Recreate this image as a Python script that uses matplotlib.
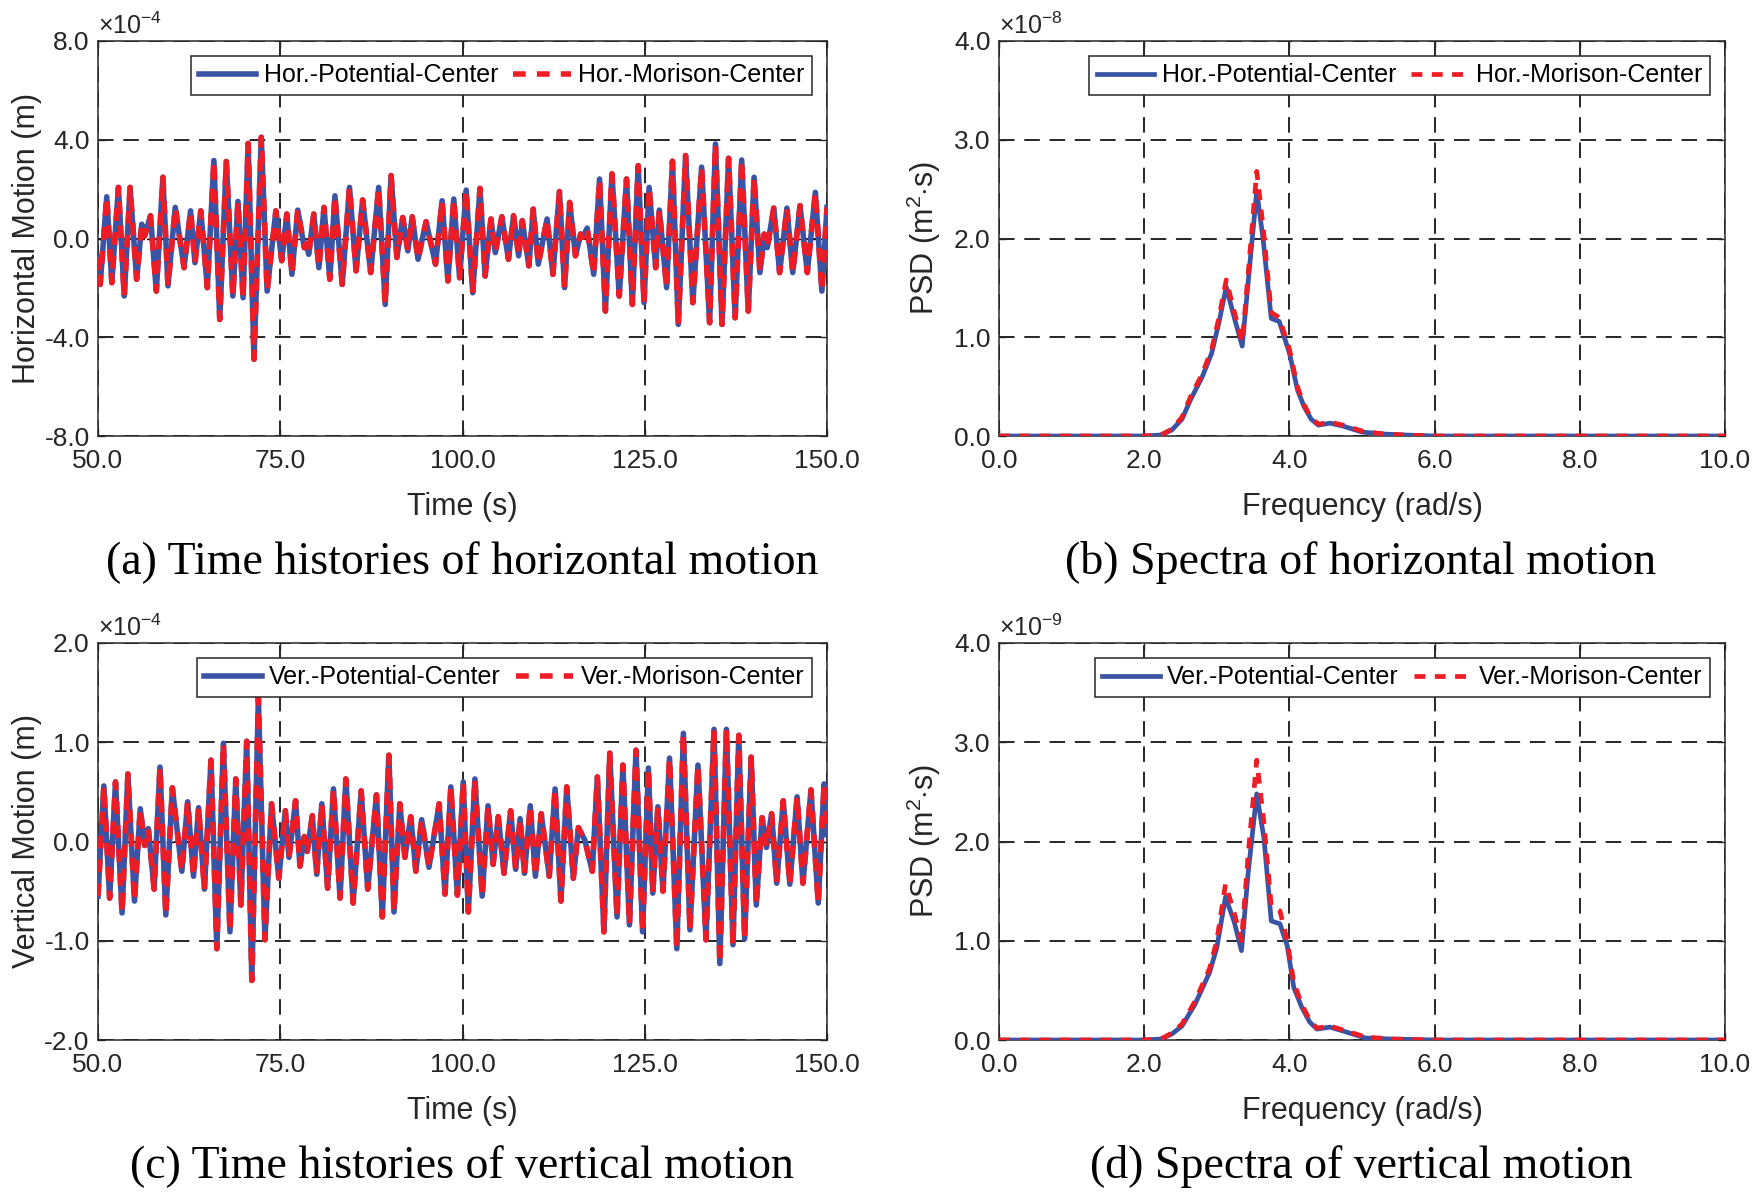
import matplotlib
matplotlib.use("Agg")
import matplotlib.pyplot as plt
from matplotlib.ticker import FixedLocator, FormatStrFormatter

plt.rcParams['font.family'] = ['Liberation Sans', 'DejaVu Sans']
plt.rcParams['mathtext.fontset'] = 'custom'
plt.rcParams['mathtext.rm'] = 'Liberation Sans'
plt.rcParams['mathtext.it'] = 'Liberation Sans:italic'

# ---------------- data ----------------
hor_time = [50.0, 50.3, 51.2, 51.9, 52.8, 53.6, 54.4, 55.3, 56.0, 56.4,
            57.2, 58.0, 58.9, 59.6, 60.6, 61.8, 62.7, 63.3, 64.1, 65.0,
            65.9, 66.7, 67.6, 68.5, 69.2, 69.9, 70.6, 71.4, 72.4, 73.2,
            74.4, 75.2, 75.9, 76.6, 77.4, 78.3, 78.6, 78.9, 79.6, 80.3,
            81.0, 81.8, 82.5, 83.5, 84.5, 85.4, 86.3, 87.4, 88.5, 89.4,
            90.2, 91.0, 91.8, 92.5, 93.1, 93.9, 95.0, 96.3, 97.2, 98.0,
            98.8, 99.6, 100.5, 101.4, 102.4, 103.1, 103.9, 104.5, 105.4, 106.3,
            107.0, 107.7, 108.2, 109.1, 109.7, 110.4, 111.6, 112.4, 113.3, 114.0,
            114.7, 115.5, 116.2, 116.5, 117.1, 118.0, 118.8, 119.6, 120.5, 121.5,
            122.5, 123.3, 124.1, 124.9, 125.6, 126.5, 127.0, 128.0, 128.8, 129.6,
            130.6, 131.6, 132.8, 133.9, 134.7, 135.6, 136.5, 137.4, 138.3, 139.2,
            140.0, 140.8, 141.4, 141.8, 142.7, 143.5, 144.5, 145.3, 146.3, 147.3,
            148.4, 149.3, 150.0]
# horizontal motion, units of 1e-4 m
hor_potential = [-0.77, -1.86, 1.69, -1.79, 2.07, -2.33, 2.07, -1.65, 0.58, 0.10,
                 0.92, -2.13, 2.48, -1.92, 1.26, -1.18, 1.12, -0.98, 1.12, -1.99,
                 3.16, -3.28, 3.12, -2.33, 1.50, -2.40, 3.85, -4.89, 4.10, -2.13,
                 1.12, -0.90, 0.99, -1.45, 1.15, -0.37, -0.20, -0.64, 0.99, -1.18,
                 1.26, -1.65, 1.73, -1.86, 2.07, -1.31, 1.56, -1.38, 2.07, -2.67,
                 2.55, -0.77, 0.85, -0.50, 0.88, -0.84, 0.68, -1.04, 1.53, -1.72,
                 1.60, -1.59, 1.96, -2.20, 2.03, -1.52, 0.79, -0.57, 0.88, -0.84,
                 0.92, -0.70, 0.72, -1.11, 1.19, -1.04, 0.79, -1.45, 1.90, -1.99,
                 1.46, -0.70, 0.18, 0.05, 0.42, -1.45, 2.41, -2.94, 2.62, -2.33,
                 2.41, -2.67, 2.95, -2.60, 2.07, -1.18, 1.15, -1.99, 3.13, -3.48,
                 3.36, -2.60, 2.89, -3.41, 3.83, -3.48, 3.25, -3.21, 3.18, -2.94,
                 2.48, -1.38, 0.18, -0.37, 1.23, -1.38, 1.23, -1.38, 1.33, -1.38,
                 1.87, -2.13, 1.26]
hor_morison = [-0.77, -1.86, 1.69, -1.79, 2.07, -2.33, 2.07, -1.65, 0.58, 0.10,
               0.92, -2.13, 2.48, -1.92, 1.26, -1.18, 1.12, -0.98, 1.12, -1.99,
               3.16, -3.28, 3.12, -2.33, 1.50, -2.40, 3.85, -4.89, 4.10, -2.13,
               1.12, -0.90, 0.99, -1.45, 1.15, -0.37, -0.20, -0.64, 0.99, -1.18,
               1.26, -1.65, 1.73, -1.86, 2.07, -1.31, 1.56, -1.38, 2.07, -2.67,
               2.55, -0.77, 0.85, -0.50, 0.88, -0.84, 0.68, -1.04, 1.53, -1.72,
               1.60, -1.59, 1.96, -2.20, 2.03, -1.52, 0.79, -0.57, 0.88, -0.84,
               0.92, -0.70, 0.72, -1.11, 1.19, -1.04, 0.79, -1.45, 1.90, -1.99,
               1.46, -0.70, 0.18, 0.05, 0.42, -1.45, 2.41, -2.94, 2.62, -2.33,
               2.41, -2.67, 2.95, -2.60, 2.07, -1.18, 1.15, -1.99, 3.13, -3.48,
               3.36, -2.60, 2.89, -3.41, 3.83, -3.48, 3.25, -3.21, 3.18, -2.94,
               2.48, -1.38, 0.18, -0.37, 1.23, -1.38, 1.23, -1.38, 1.33, -1.38,
               1.87, -2.13, 1.26]

ver_time = [50.0, 50.8, 51.6, 52.4, 53.3, 54.1, 55.0, 55.8, 56.4, 56.9,
            57.7, 58.5, 59.3, 60.2, 61.5, 62.3, 63.1, 63.8, 64.6, 65.5,
            66.3, 67.2, 68.1, 68.9, 69.6, 70.4, 71.1, 72.0, 72.9, 73.8,
            74.8, 75.7, 76.2, 77.1, 77.7, 78.3, 78.7, 79.4, 80.0, 80.7,
            81.5, 82.3, 83.2, 84.0, 85.0, 86.1, 87.0, 88.2, 89.0, 89.9,
            90.6, 91.4, 92.1, 92.9, 93.6, 94.4, 95.4, 96.8, 97.6, 98.4,
            99.3, 100.1, 100.8, 101.7, 102.7, 103.5, 104.2, 104.9, 105.7, 106.6,
            107.3, 107.9, 108.5, 109.3, 110.0, 110.8, 111.9, 112.7, 113.5, 114.3,
            115.2, 115.9, 116.8, 117.8, 118.5, 119.4, 120.2, 121.2, 122.0, 122.9,
            123.8, 124.7, 125.5, 126.1, 126.8, 127.5, 128.4, 129.4, 130.3, 131.2,
            132.3, 133.4, 134.5, 135.3, 136.2, 137.1, 137.9, 138.7, 139.6, 140.3,
            141.1, 141.7, 142.4, 143.1, 144.0, 144.9, 145.9, 146.7, 147.8, 148.8,
            149.6, 150.0]
# vertical motion, units of 1e-4 m
ver_potential = [-0.55, 0.56, -0.57, 0.60, -0.72, 0.68, -0.60, 0.33, -0.04, 0.13,
                 -0.48, 0.75, -0.74, 0.54, -0.30, 0.40, -0.35, 0.34, -0.48, 0.82,
                 -1.08, 0.99, -0.91, 0.63, -0.64, 1.01, -1.40, 1.45, -0.99, 0.38,
                 -0.37, 0.31, -0.16, 0.41, -0.25, 0.05, -0.10, 0.26, -0.33, 0.38,
                 -0.47, 0.53, -0.57, 0.63, -0.62, 0.51, -0.48, 0.47, -0.76, 0.87,
                 -0.71, 0.38, -0.16, 0.25, -0.30, 0.22, -0.26, 0.38, -0.53, 0.55,
                 -0.54, 0.60, -0.71, 0.63, -0.55, 0.36, -0.23, 0.25, -0.32, 0.31,
                 -0.28, 0.23, -0.32, 0.36, -0.35, 0.28, -0.35, 0.53, -0.60, 0.55,
                 -0.37, 0.14, 0.01, -0.30, 0.65, -0.91, 0.89, -0.76, 0.77, -0.84,
                 0.92, -0.91, 0.74, -0.52, 0.35, -0.50, 0.84, -1.08, 1.09, -0.89,
                 0.77, -0.99, 1.13, -1.23, 1.13, -1.04, 1.07, -0.98, 0.85, -0.64,
                 0.24, -0.06, 0.28, -0.42, 0.41, -0.43, 0.45, -0.42, 0.52, -0.62,
                 0.58, 0.07]
ver_morison = [-0.55, 0.56, -0.57, 0.60, -0.72, 0.68, -0.60, 0.33, -0.04, 0.13,
               -0.48, 0.75, -0.74, 0.54, -0.30, 0.40, -0.35, 0.34, -0.48, 0.82,
               -1.08, 0.99, -0.91, 0.63, -0.64, 1.01, -1.40, 1.45, -0.99, 0.38,
               -0.37, 0.31, -0.16, 0.41, -0.25, 0.05, -0.10, 0.26, -0.33, 0.38,
               -0.47, 0.53, -0.57, 0.63, -0.62, 0.51, -0.48, 0.47, -0.76, 0.87,
               -0.71, 0.38, -0.16, 0.25, -0.30, 0.22, -0.26, 0.38, -0.53, 0.55,
               -0.54, 0.60, -0.71, 0.63, -0.55, 0.36, -0.23, 0.25, -0.32, 0.31,
               -0.28, 0.23, -0.32, 0.36, -0.35, 0.28, -0.35, 0.53, -0.60, 0.55,
               -0.37, 0.14, 0.01, -0.30, 0.65, -0.91, 0.89, -0.76, 0.77, -0.84,
               0.92, -0.91, 0.74, -0.52, 0.35, -0.50, 0.84, -1.08, 1.09, -0.89,
               0.77, -0.99, 1.13, -1.23, 1.13, -1.04, 1.07, -0.98, 0.85, -0.64,
               0.24, -0.06, 0.28, -0.42, 0.41, -0.43, 0.45, -0.42, 0.52, -0.62,
               0.58, 0.07]

# spectra of horizontal motion, units of 1e-8 m^2 s
hor_freq = [0.0, 1.0, 2.0, 2.23, 2.38, 2.52, 2.64, 2.8, 2.93, 3.03,
            3.13, 3.24, 3.35, 3.45, 3.55, 3.64, 3.75, 3.86, 4.0, 4.11,
            4.2, 4.3, 4.4, 4.56, 4.74, 5.0, 5.3, 5.6, 6.0, 7.0,
            8.0, 9.0, 10.0]
hor_psd_potential = [0, 0, 0, 0.01, 0.06, 0.17, 0.37, 0.6, 0.84, 1.15,
                     1.51, 1.2, 0.91, 1.7, 2.48, 1.98, 1.19, 1.16, 0.84, 0.47,
                     0.3, 0.17, 0.11, 0.13, 0.1, 0.04, 0.02, 0.01, 0, 0,
                     0, 0, 0]
hor_psd_morison = [0, 0, 0, 0.01, 0.07, 0.19, 0.4, 0.63, 0.88, 1.2,
                   1.58, 1.26, 0.95, 1.8, 2.68, 2.1, 1.25, 1.2, 0.88, 0.5,
                   0.32, 0.18, 0.12, 0.14, 0.11, 0.05, 0.02, 0.01, 0, 0,
                   0, 0, 0]

# spectra of vertical motion, units of 1e-9 m^2 s
ver_freq = [0.0, 1.0, 2.0, 2.23, 2.38, 2.52, 2.7, 2.9, 3.0, 3.12,
            3.24, 3.34, 3.43, 3.55, 3.65, 3.75, 3.87, 3.97, 4.06, 4.17,
            4.28, 4.38, 4.56, 4.74, 5.05, 5.4, 6.0, 7.0, 8.0, 9.0,
            10.0]
ver_psd_potential = [0, 0, 0, 0.01, 0.06, 0.14, 0.36, 0.68, 0.93, 1.44,
                     1.19, 0.9, 1.67, 2.48, 2.03, 1.2, 1.17, 0.95, 0.53, 0.33,
                     0.18, 0.11, 0.13, 0.09, 0.02, 0.01, 0, 0, 0, 0,
                     0]
ver_psd_morison = [0, 0, 0, 0.01, 0.07, 0.16, 0.39, 0.72, 1.0, 1.57,
                   1.28, 1.0, 1.85, 2.82, 2.18, 1.35, 1.30, 1.0, 0.58, 0.36,
                   0.2, 0.12, 0.14, 0.1, 0.03, 0.01, 0, 0, 0, 0,
                   0]

time_ticks = [50, 75, 100, 125, 150]
hor_ticks = [-8, -4, 0, 4, 8]
ver_ticks = [-2, -1, 0, 1, 2]
freq_ticks = [0, 2, 4, 6, 8, 10]
psd_ticks = [0, 1, 2, 3, 4]

captions = ["(a) Time histories of horizontal motion",
            "(b) Spectra of horizontal motion",
            "(c) Time histories of vertical motion",
            "(d) Spectra of vertical motion"]

BLUE = '#3a53a4'
RED = '#ee1c25'
GRIDC = '#262626'
TXT = '#262626'

fig = plt.figure(figsize=(17.6, 11.97), dpi=100)
W, H = 1760.0, 1197.0

def make_ax(left, top, right, bottom):
    return fig.add_axes([left / W, 1 - bottom / H, (right - left) / W, (bottom - top) / H])

ax_a = make_ax(98, 41, 827, 436)
ax_b = make_ax(999, 41, 1725, 436)
ax_c = make_ax(98, 643, 827, 1040)
ax_d = make_ax(999, 643, 1725, 1040)

TICK_FS = 19
LAB_FS = 22
LEG_FS = 18

def style(ax, xticks, yticks, xfmt, yfmt, expo, zero_line=False):
    ax.set_xlim(xticks[0], xticks[-1])
    ax.set_ylim(yticks[0], yticks[-1])
    ax.xaxis.set_major_locator(FixedLocator(xticks))
    ax.yaxis.set_major_locator(FixedLocator(yticks))
    ax.xaxis.set_major_formatter(FormatStrFormatter(xfmt))
    ax.yaxis.set_major_formatter(FormatStrFormatter(yfmt))
    ax.tick_params(direction='in', length=5, width=1, labelsize=TICK_FS,
                   top=True, right=True, colors=TXT)
    ax.tick_params(axis='x', pad=9)
    ax.tick_params(axis='y', pad=6)
    for sp in ax.spines.values():
        sp.set_linewidth(1.1)
        sp.set_color(TXT)
    ax.grid(True, color=GRIDC, linestyle=(0, (8, 5)), linewidth=1.4)
    ax.set_axisbelow(True)
    if zero_line:
        ax.axhline(0, color='black', linewidth=1.0, linestyle=(0, (2, 1.5)), zorder=1.5)
    ax.text(0.0, 1.004, r'$\times$10$^{%d}$' % expo, transform=ax.transAxes,
            ha='left', va='bottom', fontsize=18, color=TXT)

def legend(ax, labels):
    leg = ax.legend(labels, loc='upper right', ncol=2, fontsize=LEG_FS,
                    frameon=True, fancybox=False, handlelength=2.3,
                    columnspacing=0.6, handletextpad=0.3, borderpad=0.3,
                    borderaxespad=0.6)
    leg.get_frame().set_edgecolor(TXT)
    leg.get_frame().set_linewidth(1.1)
    leg.get_frame().set_alpha(1)

LW_T = 4.0
LW_S = 3.4
DASH = (0, (2.3, 2.0))

def draw(ax, x, y1, y2, lw):
    ax.plot(x, y1, color=BLUE, lw=lw, zorder=3, solid_joinstyle='round')
    ax.plot(x, y2, color=RED, lw=lw, ls=DASH, zorder=4, dash_joinstyle='round')

# (a)
draw(ax_a, hor_time, hor_potential, hor_morison, LW_T)
style(ax_a, time_ticks, hor_ticks, '%.1f', '%.1f', -4, zero_line=True)
ax_a.set_xlabel('Time (s)', fontsize=LAB_FS, color=TXT, labelpad=14)
ax_a.set_ylabel('Horizontal Motion (m)', fontsize=LAB_FS, color=TXT, labelpad=2)
legend(ax_a, ['Hor.-Potential-Center', 'Hor.-Morison-Center'])

# (b)
draw(ax_b, hor_freq, hor_psd_potential, hor_psd_morison, LW_S)
style(ax_b, freq_ticks, psd_ticks, '%.1f', '%.1f', -8)
ax_b.set_xlabel('Frequency (rad/s)', fontsize=LAB_FS, color=TXT, labelpad=14)
ax_b.set_ylabel(r'PSD (m$^2$$\cdot$s)', fontsize=LAB_FS, color=TXT, labelpad=8)
legend(ax_b, ['Hor.-Potential-Center', 'Hor.-Morison-Center'])

# (c)
draw(ax_c, ver_time, ver_potential, ver_morison, LW_T)
style(ax_c, time_ticks, ver_ticks, '%.1f', '%.1f', -4, zero_line=True)
ax_c.set_xlabel('Time (s)', fontsize=LAB_FS, color=TXT, labelpad=14)
ax_c.set_ylabel('Vertical Motion (m)', fontsize=LAB_FS, color=TXT, labelpad=2)
legend(ax_c, ['Ver.-Potential-Center', 'Ver.-Morison-Center'])

# (d)
draw(ax_d, ver_freq, ver_psd_potential, ver_psd_morison, LW_S)
style(ax_d, freq_ticks, psd_ticks, '%.1f', '%.1f', -9)
ax_d.set_xlabel('Frequency (rad/s)', fontsize=LAB_FS, color=TXT, labelpad=14)
ax_d.set_ylabel(r'PSD (m$^2$$\cdot$s)', fontsize=LAB_FS, color=TXT, labelpad=8)
legend(ax_d, ['Ver.-Potential-Center', 'Ver.-Morison-Center'])

cap_pos = [(462 / W, 1 - 563 / H), (1361 / W, 1 - 563 / H),
           (462 / W, 1 - 1167 / H), (1361 / W, 1 - 1167 / H)]
for (x, y), txt in zip(cap_pos, captions):
    fig.text(x, y, txt, ha='center', va='center', fontsize=33,
             family=['Liberation Serif', 'DejaVu Serif'], color='black')

fig.savefig('out.png', dpi=100, facecolor='white')
